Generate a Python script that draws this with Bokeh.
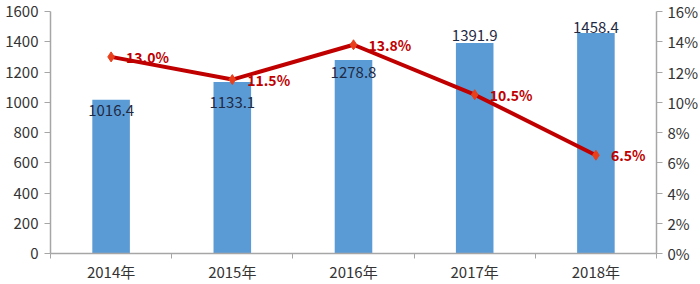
from bokeh.plotting import figure
from bokeh.models import Range1d, LinearAxis, FixedTicker, PrintfTickFormatter, ColumnDataSource
from bokeh.core.properties import value
from bokeh.embed import file_html
from bokeh.resources import INLINE

years = ["2014年", "2015年", "2016年", "2017年", "2018年"]
revenue = [1016.4, 1133.1, 1278.8, 1391.9, 1458.4]
growth = [13.0, 11.5, 13.8, 10.5, 6.5]
revenue_labels = ["1016.4", "1133.1", "1278.8", "1391.9", "1458.4"]
growth_labels = ["13.0%", "11.5%", "13.8%", "10.5%", "6.5%"]
left_ticks = [0, 200, 400, 600, 800, 1000, 1200, 1400, 1600]
right_ticks = [0, 2, 4, 6, 8, 10, 12, 14, 16]

# label placement (screen px) - styling only
bar_label_dy = [11, 20, 12, -7, -5]

FONT = "Noto Sans CJK SC"
AXIS_GRAY = "#A6A6A6"
TEXT = "#333333"

xs = [i + 0.5 for i in range(len(years))]
src = ColumnDataSource(dict(x=xs, rev=revenue, g=growth, rl=revenue_labels,
                            gl=growth_labels, dy=bar_label_dy))

p = figure(width=700, height=284, output_backend="svg", toolbar_location=None,
           x_range=Range1d(0, len(years)), y_range=Range1d(0, 1600),
           min_border_left=50, min_border_right=41, min_border_top=11, min_border_bottom=30)
p.extra_y_ranges = {"pct": Range1d(0, 16)}
p.outline_line_color = None
p.xgrid.visible = False
p.ygrid.visible = False
p.background_fill_color = "white"
p.border_fill_color = "white"

p.vbar(x="x", top="rev", width=0.31, bottom=0, source=src, color="#5B9BD5", line_color=None)

p.text(x="x", y="rev", text="rl", source=src, y_offset="dy", text_align="center",
       text_baseline="middle", text_font=value(FONT), text_font_size="15px", text_color="#1F2A44")

p.line(x="x", y="g", source=src, y_range_name="pct", line_color="#C00000", line_width=4)
p.scatter(x="x", y="g", source=src, y_range_name="pct", marker="diamond", size=10,
          fill_color="#E8401C", line_color="#E8401C")
p.text(x="x", y="g", text="gl", source=src, y_range_name="pct", x_offset=15,
       text_align="left", text_baseline="middle", text_font=value(FONT),
       text_font_size="14px", text_font_style="bold", text_color="#C00000")

# x axis
xa = p.xaxis[0]
xa.ticker = FixedTicker(ticks=xs, minor_ticks=list(range(0, len(years) + 1)))
xa.major_label_overrides = {x: y for x, y in zip(xs, years)}
xa.major_tick_out = 0
xa.major_tick_in = 0
xa.minor_tick_out = 5
xa.minor_tick_in = 0
xa.minor_tick_line_color = AXIS_GRAY
xa.axis_line_color = AXIS_GRAY
xa.axis_line_width = 1.5
xa.major_label_text_font = FONT
xa.major_label_text_font_size = "15px"
xa.major_label_text_color = TEXT
xa.major_label_standoff = 2

ya = p.yaxis[0]
ya.ticker = FixedTicker(ticks=left_ticks)
ya.major_tick_out = 6
ya.major_tick_in = 0
ya.minor_tick_out = 0
ya.minor_tick_in = 0
ya.axis_line_color = AXIS_GRAY
ya.axis_line_width = 1.5
ya.major_tick_line_color = AXIS_GRAY
ya.major_label_text_font = FONT
ya.major_label_text_font_size = "15px"
ya.major_label_text_color = TEXT
ya.major_label_standoff = 6

ra = LinearAxis(y_range_name="pct", ticker=FixedTicker(ticks=right_ticks),
                formatter=PrintfTickFormatter(format="%d%%"))
ra.major_tick_out = 6
ra.major_tick_in = 0
ra.minor_tick_out = 0
ra.minor_tick_in = 0
ra.axis_line_color = AXIS_GRAY
ra.axis_line_width = 1.5
ra.major_tick_line_color = AXIS_GRAY
ra.major_label_text_font = FONT
ra.major_label_text_font_size = "15px"
ra.major_label_text_color = TEXT
ra.major_label_standoff = 5
p.add_layout(ra, "right")

open("out.html", "w").write(file_html(p, INLINE))
